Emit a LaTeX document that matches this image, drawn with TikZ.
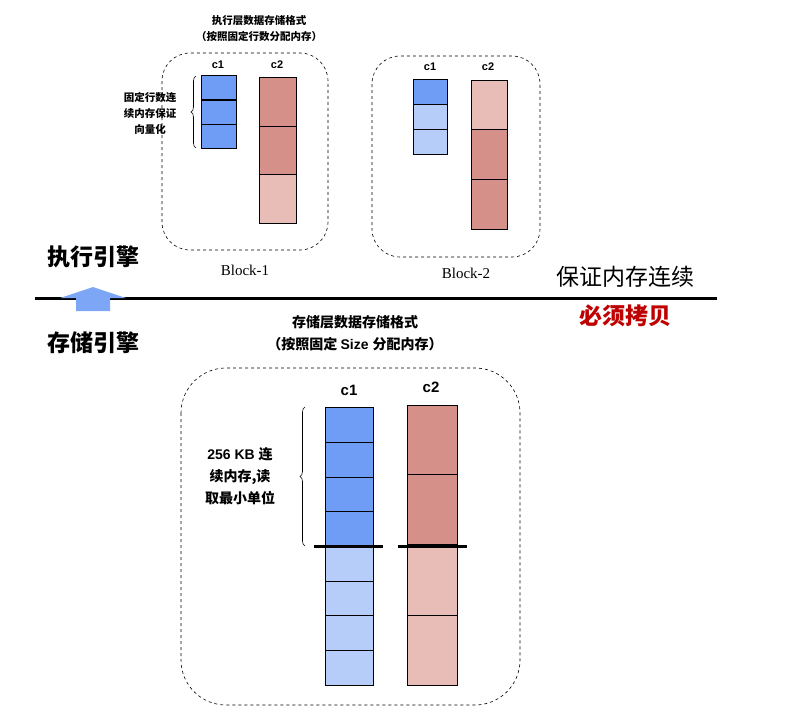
\documentclass[tikz,border=0pt]{standalone}
\usepackage{fontspec}
\setmainfont{Liberation Serif}
\setsansfont{Liberation Sans}
\newfontfamily\cjk{Noto Sans CJK SC}
\usetikzlibrary{positioning, arrows.meta, decorations.pathreplacing}
\definecolor{bdark}{HTML}{6F9CF5}
\definecolor{blight}{HTML}{B6CDF9}
\definecolor{rdark}{HTML}{D6908A}
\definecolor{rlight}{HTML}{E8BDB8}
\tikzset{%
  blk/.style={draw, dashed, semithick, rounded corners=28pt},
  cell/.style={draw, thick, minimum width=#1, inner sep=0pt},
  lab/.style={font=\sffamily\bfseries\fontsize{15}{17}\selectfont},
  slab/.style={font=\sffamily\bfseries\fontsize{11}{13}\selectfont},
  note/.style={font=\cjk\bfseries\fontsize{10.5}{16}\selectfont, align=center},
  bnote/.style={font=\cjk\bfseries\fontsize{14}{22}\selectfont, align=center},
  big/.style={font=\cjk\bfseries\fontsize{23}{26}\selectfont},
  brc/.style={decorate, semithick, decoration={brace, amplitude=5pt, mirror}}
}
\begin{document}
\begin{tikzpicture}[x=1pt, y=-1pt]
        \useasboundingbox (0,0) rectangle (796,718);
        % execution layer
        \node[note] (t1) at (259,29) {执行层数据存储格式\\（按照固定行数分配内存）};
        \draw[blk] (162,53) rectangle (328,250);
        \draw[blk] (372,56) rectangle (540,257);
        \node[slab] (a1) at (218,65) {c1};
        \node[slab] (a2) at (277,65) {c2};
        \node[slab] (b1) at (430,67) {c1};
        \node[slab] (b2) at (488,67) {c2};
        \foreach \y/\c in {75/bdark, 100/bdark, 124/bdark}
          \draw[cell=0pt, fill=\c] (201,\y) rectangle ++(35,24);
        \foreach \y/\c in {77/rdark, 126/rdark, 174/rlight}
          \draw[cell=0pt, fill=\c] (259,\y) rectangle ++(37,49);
        \foreach \y/\c in {79/bdark, 104/blight, 129/blight}
          \draw[cell=0pt, fill=\c] (413,\y) rectangle ++(34,25);
        \foreach \y/\c in {80/rlight, 129/rdark, 179/rdark}
          \draw[cell=0pt, fill=\c] (471,\y) rectangle ++(36,50);
        \draw[brc] (196,76) -- (196,148);
        \node[note] (n1) at (150,113) {固定行数连\\续内存保证\\向量化};
        \node[font=\fontsize{15}{17}\selectfont] (k1) at (245,270) {Block-1};
        \node[font=\fontsize{15}{17}\selectfont] (k2) at (466,273) {Block-2};
        % boundary
        \coordinate (l0) at (35,298);
        \coordinate (l1) at (717,298);
        \draw[line width=3pt] (l0) -- (l1);
        \node[big] (e1) at (93,257) {执行引擎};
        \node[big] (e2) at (93,343) {存储引擎};
        \fill[bdark!90] (76,311) -- (76,298) -- (60,298) -- (93,287) -- (126,298) -- (110,298) -- (110,311) -- cycle;
        \node[big, font=\cjk\fontsize{23}{26}\selectfont] (g1) at (625,277) {保证内存连续};
        \node[big, color=red!75!black] (g2) at (625,316) {必须拷贝};
        % storage layer
        \node[bnote] (t2) at (355,333) {存储层数据存储格式\\（按照固定 \sffamily Size \cjk 分配内存）};
        \draw[blk, rounded corners=45pt] (181,368) rectangle (520,705);
        \node[lab] (s1) at (349,390) {c1};
        \node[lab] (s2) at (431,387) {c2};
        \foreach \y/\c in {407/bdark, 442/bdark, 477/bdark, 511/bdark, 546/blight, 581/blight, 615/blight, 650/blight}
          \draw[cell=0pt, fill=\c] (325,\y) rectangle ++(48,35);
        \foreach \y/\c in {405/rdark, 474/rdark, 546/rlight, 615/rlight}
          \draw[cell=0pt, fill=\c] (407,\y) rectangle ++(50,70);
        \draw[line width=3pt] (314,546) -- (383,546);
        \draw[line width=3pt] (398,546) -- (467,546);
        \draw[brc] (305,407) -- (305,546);
        \node[bnote] (n2) at (240,476) {\sffamily 256 KB \cjk 连\\续内存,读\\取最小单位};
\end{tikzpicture}
\end{document}
